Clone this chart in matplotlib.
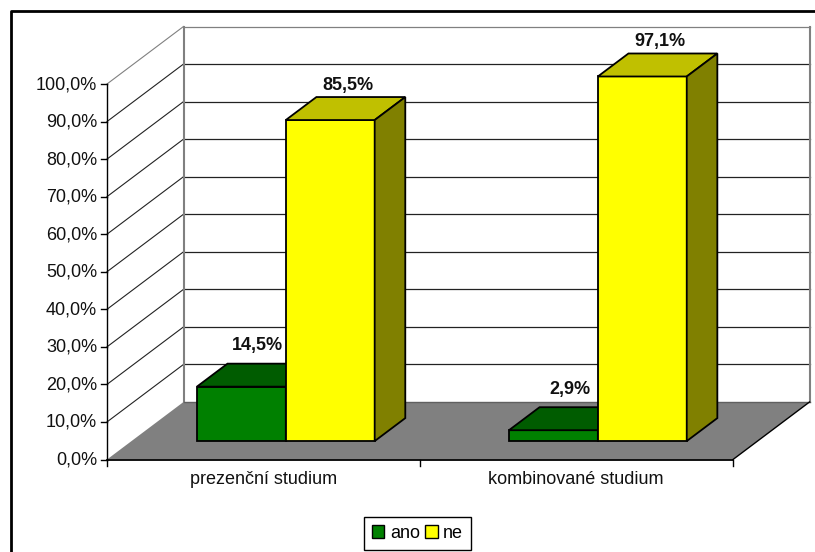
import matplotlib
matplotlib.use("Agg")
import matplotlib.pyplot as plt
from matplotlib.patches import Polygon, Patch

categories = ["prezenční studium", "kombinované studium"]
series_names = ["ano", "ne"]
ano = [14.5, 2.9]
ne = [85.5, 97.1]
ticks = [0, 10, 20, 30, 40, 50, 60, 70, 80, 90, 100]

plt.rcParams['font.family'] = ['Liberation Sans', 'DejaVu Sans']

# pseudo 3d projection, x in categories, v in percent, d is depth 0..1
def proj(x, v, d=0.0):
    return (107 + 313 * x + 76.5 * d, 459.5 - 3.755 * v - 57.5 * d)

def face(ax, pts, color, ec='black', lw=1.3, z=2):
    ax.add_patch(Polygon([proj(*p) for p in pts], closed=True, fc=color, ec=ec, lw=lw, zorder=z, joinstyle='miter'))

def bar3d(ax, x, w, v, col, top, side, z):
    d0, d1 = 0.32, 0.72
    face(ax, [(x, 0, d0), (x + w, 0, d0), (x + w, v, d0), (x, v, d0)], col, z=z)
    face(ax, [(x, v, d0), (x + w, v, d0), (x + w, v, d1), (x, v, d1)], top, z=z)
    face(ax, [(x + w, 0, d0), (x + w, 0, d1), (x + w, v, d1), (x + w, v, d0)], side, z=z)

fig = plt.figure(figsize=(8.15, 5.52), dpi=100)
ax = fig.add_axes([0, 0, 1, 1])
ax.set_xlim(0, 815)
ax.set_ylim(552, 0)
ax.axis('off')

# outer chart frame, only left and top are visible in the crop
ax.plot([10.5, 10.5, 815], [552, 11, 11], color='black', lw=2, zorder=1)

# floor
face(ax, [(0, 0, 0), (2, 0, 0), (2, 0, 1), (0, 0, 1)], '#808080', ec='none', z=1)

# grid on the walls
for t in ticks:
    c = '#808080' if t == 100 else '#222222'
    if t > 0:
        ax.plot(*zip(proj(0, t), proj(0, t, 1)), color=c, lw=0.8, zorder=1.5)
        ax.plot(*zip(proj(0, t, 1), proj(2, t, 1)), color=c, lw=0.9, zorder=1.5)
    ax.plot(*zip(proj(0, t), (proj(0, t)[0] - 6, proj(0, t)[1])), color='black', lw=1, zorder=3)
    px, py = proj(0, t)
    ax.text(px - 10, py + 0.5, f"{t},0%", ha='right', va='center', fontsize=13, color='#111111')

# wall edges
ax.plot(*zip(proj(0, 0, 1), proj(0, 100, 1)), color='#808080', lw=1.5, zorder=1.6)
ax.plot(*zip(proj(2, 0, 1), proj(2, 100, 1)), color='#808080', lw=1.5, zorder=1.6)
ax.plot(*zip(proj(0, 0, 1), proj(2, 0, 1)), color='#606060', lw=1, zorder=1.6)
ax.plot(*zip(proj(0, 0), proj(0, 100)), color='black', lw=1, zorder=3)
ax.plot(*zip(proj(0, 0), proj(2, 0)), color='black', lw=1.3, zorder=3)
ax.plot(*zip(proj(2, 0), proj(2, 0, 1)), color='black', lw=1, zorder=1.6)

# category ticks and labels
for i in range(3):
    p = proj(i, 0)
    ax.plot([p[0], p[0]], [p[1], p[1] + 6], color='black', lw=1, zorder=3)
for i, name in enumerate(categories):
    p = proj(i + 0.5, 0)
    ax.text(p[0] - i, 480, name, ha='center', va='center', fontsize=13, color='#111111')

w = 0.284
for i in range(2):
    x0 = i + 0.209 - 0.003 * i
    bar3d(ax, x0, w, ano[i], '#008000', '#005c00', '#004000', 3 + i)
    bar3d(ax, x0 + w, w, ne[i], '#FFFF00', '#C0C000', '#808000', 3.5 + i)
    gx, gy = proj(x0 + w / 2, ano[i], 0.32)
    ax.text(gx + 16.5, gy - 41, f"{ano[i]:.1f}%".replace('.', ','), ha='center', va='center',
            fontsize=13, fontweight='bold', color='#111111', zorder=6)
    yx, yy = proj(x0 + w * 1.5, ne[i], 0.32)
    ax.text(yx + 18, yy - 35, f"{ne[i]:.1f}%".replace('.', ','), ha='center', va='center',
            fontsize=13, fontweight='bold', color='#111111', zorder=6)

handles = [Patch(fc='#008000', ec='black', lw=1, label=series_names[0]),
           Patch(fc='#FFFF00', ec='black', lw=1, label=series_names[1])]
ax.legend(handles=handles, ncol=2, loc='center', bbox_to_anchor=(417.5, 533.5), bbox_transform=ax.transData,
          prop={'size': 13}, frameon=True, fancybox=False, framealpha=1, edgecolor='black',
          handlelength=0.7, handleheight=0.7, handletextpad=0.3, columnspacing=0.3, borderpad=0.45, borderaxespad=0)

fig.savefig("out.png", dpi=100)
plt.close('all')
